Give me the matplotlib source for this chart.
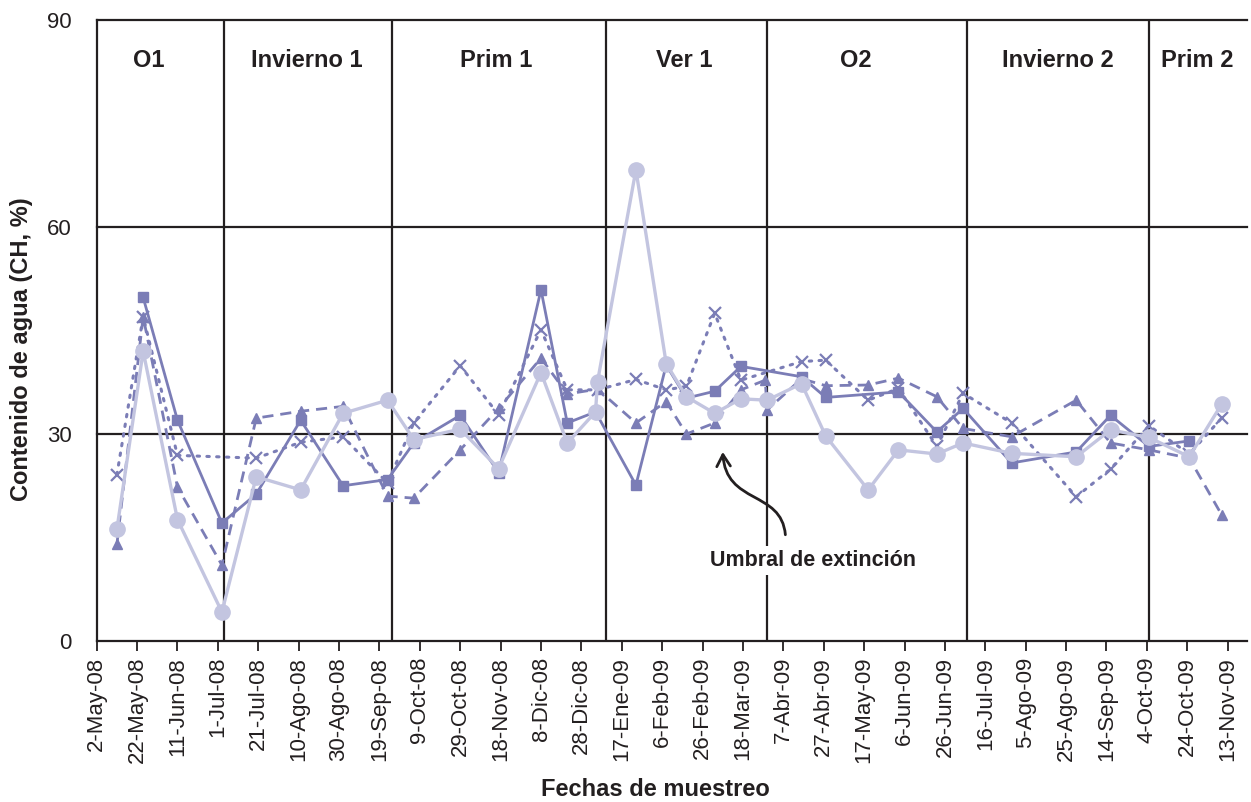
import numpy as np
import pandas as pd
import matplotlib
matplotlib.use("Agg")
import matplotlib.pyplot as plt
import matplotlib.dates as mdates
from matplotlib.path import Path
from matplotlib.patches import FancyArrowPatch
from matplotlib.ticker import FuncFormatter

plt.rcParams['font.family'] = ['Liberation Sans', 'DejaVu Sans']

nan = np.nan

# Sampling dates
fechas = [
    "2008-05-12", "2008-05-25", "2008-06-11", "2008-07-03", "2008-07-20",
    "2008-08-11", "2008-09-01", "2008-09-23", "2008-10-06", "2008-10-29",
    "2008-11-17", "2008-12-08", "2008-12-21", "2009-01-04", "2009-01-05",
    "2009-01-24", "2009-02-08", "2009-02-18", "2009-03-04", "2009-03-17",
    "2009-03-29", "2009-03-30", "2009-04-16", "2009-04-28", "2009-05-19",
    "2009-06-03", "2009-06-22", "2009-07-05", "2009-07-29", "2009-08-30",
    "2009-09-16", "2009-10-05", "2009-10-25", "2009-11-10",
]

# Water content (CH, %) for each series
ch_cuadrado = [nan, 49.8, 32.0, 17.1, 21.3, 32.0, 22.5, 23.4, 28.7, 32.7,
               24.4, 50.9, 31.6, 33.2, nan, 22.6, 40.0, 35.2, 36.2, 39.8,
               nan, nan, 38.3, 35.3, nan, 36.1, 30.3, 33.7, 25.8, 27.4,
               32.7, 28.2, 29.0, nan]
ch_triangulo = [14.0, 47.0, 22.3, 11.0, 32.3, 33.3, 34.0, 21.0, 20.7, 27.7,
                33.7, 41.0, 35.8, nan, 36.5, 31.6, 34.7, 30.0, 31.6, 36.4,
                37.8, 33.5, 38.0, 37.0, 37.1, 38.1, 35.4, 30.8, 29.6, 34.9,
                28.7, 27.7, 26.5, 18.3]
ch_cruz = [24.1, 47.0, 26.9, nan, 26.5, 28.8, 29.6, 22.9, 31.6, 39.9,
           32.8, 45.1, 36.4, nan, 36.4, 37.9, 36.4, 36.9, 47.5, 37.8,
           nan, nan, 40.5, 40.7, 34.9, 36.6, 28.2, 35.9, 31.6, 20.9,
           24.9, 31.2, 27.1, 32.3]
ch_circulo = [16.2, 42.0, 17.6, 4.2, 23.8, 21.9, 33.0, 34.9, 29.2, 30.7,
              25.0, 38.9, 28.7, 33.2, 37.6, 68.3, 40.2, 35.4, 33.0, 35.1,
              nan, 34.9, 37.3, 29.7, 21.9, 27.7, 27.1, 28.7, 27.2, 26.7,
              30.6, 29.5, 26.7, 34.3]

# Seasons: boundaries and labels
limites_estacion = ["2008-07-04", "2008-09-25", "2009-01-09", "2009-03-30",
                    "2009-07-07", "2009-10-05"]
estaciones = ["O1", "Invierno 1", "Prim 1", "Ver 1", "O2", "Invierno 2", "Prim 2"]
pos_estaciones = ["2008-05-28", "2008-08-14", "2008-11-16", "2009-02-17",
                  "2009-05-13", "2009-08-21", "2009-10-29"]

meses = ["Ene", "Feb", "Mar", "Abr", "May", "Jun", "Jul", "Ago", "Sep",
         "Oct", "Nov", "Dic"]
inicio_eje = "2008-05-02"
fin_eje = "2009-11-22 14:00"
paso_dias = 20
y_ticks = [0, 30, 60, 90]

oscuro = "#7B7DB6"
claro = "#C3C5E0"
tinta = "#231F20"

t = pd.to_datetime(fechas)
x = mdates.date2num(t)

fig = plt.figure(figsize=(12.51, 8.02), dpi=100)
ax = fig.add_axes([96.7 / 1251, 1 - 641 / 802, (1247 - 96.7) / 1251, (641 - 20) / 802])


def serie(vals, **kw):
    v = np.asarray(vals, dtype=float)
    m = ~np.isnan(v)
    ax.plot(x[m], v[m], **kw)


serie(ch_cuadrado, color=oscuro, lw=2.0, marker="s", ms=7.5, zorder=4)
serie(ch_triangulo, color=oscuro, lw=2.0, ls=(0, (4, 2.5)), marker="^",
      ms=7.5, zorder=4)
serie(ch_cruz, color=oscuro, lw=2.2, ls=(0, (0.8, 2.4)), dash_capstyle="round",
      marker="x", ms=9, mew=1.6, zorder=4)
serie(ch_circulo, color=claro, lw=2.4, marker="o", ms=11, zorder=5)

# Axis limits and ticks
x0 = mdates.date2num(pd.Timestamp(inicio_eje))
x1 = mdates.date2num(pd.Timestamp(fin_eje))
ax.set_xlim(x0, x1)
ax.set_ylim(y_ticks[0], y_ticks[-1])

ticks = pd.date_range(inicio_eje, "2009-11-13", freq=f"{paso_dias}D")
ax.set_xticks(mdates.date2num(ticks))


def fmt_fecha(v, pos):
    d = mdates.num2date(v)
    return f"{d.day}-{meses[d.month - 1]}-{d.strftime('%y')}"


ax.xaxis.set_major_formatter(FuncFormatter(fmt_fecha))
ax.tick_params(axis="x", direction="out", length=7.5, width=1.3, color=tinta,
               labelsize=16, labelrotation=90, pad=4, labelcolor=tinta)
ax.set_yticks(y_ticks)
ax.tick_params(axis="y", length=0, labelsize=16, pad=18, labelcolor=tinta)

for s in ["top", "right"]:
    ax.spines[s].set_visible(False)
for s in ["left", "bottom"]:
    ax.spines[s].set_color(tinta)
    ax.spines[s].set_linewidth(1.6)

for yv in y_ticks[1:]:
    ax.axhline(yv, color=tinta, lw=1.6, zorder=2, clip_on=False)

for b in limites_estacion:
    ax.axvline(mdates.date2num(pd.Timestamp(b)), color=tinta, lw=1.6, zorder=2)

for nombre, p in zip(estaciones, pos_estaciones):
    ax.text(mdates.date2num(pd.Timestamp(p)), 84.2, nombre, ha="center",
            va="center", fontsize=17, fontweight="bold", color=tinta)

# Extinction threshold note with curved arrow
ax.text(mdates.date2num(pd.Timestamp("2009-04-21 16:00")), 11.7,
        "Umbral de extinción", ha="center", va="center", fontsize=15.5,
        fontweight="bold", color=tinta, zorder=6,
        bbox=dict(facecolor="white", edgecolor="none", pad=3))

pts = [("2009-04-08", 15.4), ("2009-04-06", 21.9), ("2009-03-09 12:00", 19.7),
       ("2009-03-08", 27.4)]
verts = [(mdates.date2num(pd.Timestamp(d)), v) for d, v in pts]
path = Path(verts, [Path.MOVETO, Path.CURVE4, Path.CURVE4, Path.CURVE4])
arrow = FancyArrowPatch(path=path, arrowstyle="->,head_length=0.6,head_width=0.35",
                        mutation_scale=14, lw=2.0, color=tinta,
                        transform=ax.transData, zorder=6)
ax.add_patch(arrow)

fig.text(22 / 1251, 1 - 349 / 802, "Contenido de agua (CH, %)", rotation=90,
         ha="center", va="center", fontsize=17, fontweight="bold", color=tinta)
fig.text(655 / 1251, 1 - 789 / 802, "Fechas de muestreo", ha="center",
         va="center", fontsize=17, fontweight="bold", color=tinta)

fig.savefig("out.png", dpi=100)
